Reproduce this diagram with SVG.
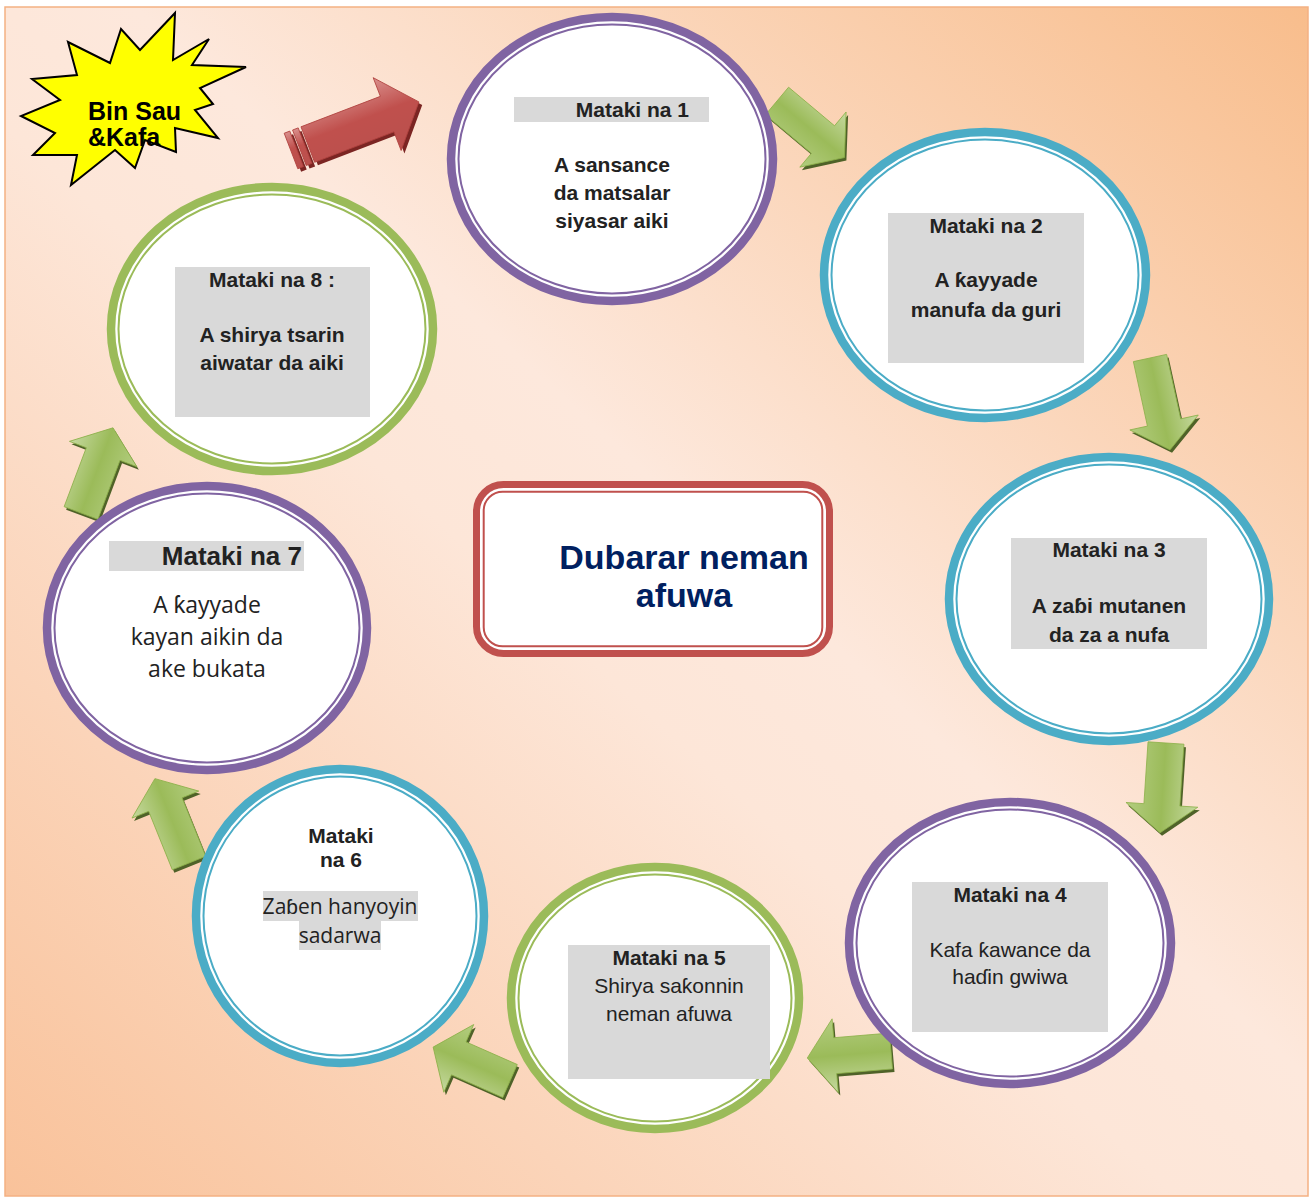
<svg xmlns="http://www.w3.org/2000/svg" width="1311" height="1198" viewBox="0 0 1311 1198">
<defs>
<linearGradient id="bg" x1="1" y1="0" x2="0" y2="1">
<stop offset="0" stop-color="#f8bd8c"/>
<stop offset="0.45" stop-color="#fde8dc"/>
<stop offset="0.55" stop-color="#fde6d8"/>
<stop offset="1" stop-color="#f9c29a"/>
</linearGradient>
<linearGradient id="gg" x1="0" y1="0" x2="0" y2="1">
<stop offset="0" stop-color="#c6d9a0"/>
<stop offset="0.5" stop-color="#9bbb59"/>
<stop offset="1" stop-color="#b3cd80"/>
</linearGradient>
<linearGradient id="rg" x1="0" y1="0" x2="0" y2="1">
<stop offset="0" stop-color="#d98f8c"/>
<stop offset="0.45" stop-color="#c0504d"/>
<stop offset="1" stop-color="#b9504d"/>
</linearGradient>
<path id="g84" d="M0,-18 H56 V-37 L84,0 L56,37 V18 H0 Z"/>
<path id="g88" d="M0,-18 H60 V-36 L88,0 L60,36 V18 H0 Z"/>
<path id="g90" d="M0,-18 H62 V-36 L90,0 L62,36 V18 H0 Z"/>
<path id="g91" d="M0,-18 H63 V-36 L91,0 L63,36 V18 H0 Z"/>
<path id="g94" d="M0,-17 H66 V-35 L94,0 L66,35 V17 H0 Z"/>
<style>
.t{font-family:"Liberation Sans",Arial,sans-serif;fill:#222;text-anchor:middle;font-size:21px}
.b{font-weight:bold}
.o{font-family:"Open Sans","Liberation Sans",sans-serif}
.hl{fill:#d9d9d9}
.ring{fill:#fff;stroke-width:8.5}
.thin{fill:none;stroke-width:2}
.gs{fill:#4f6228}
.gf{fill:url(#gg);stroke:#8db04a;stroke-width:0.8}
</style>
</defs>

<rect x="5" y="7" width="1303" height="1189" fill="url(#bg)" stroke="#f4b183" stroke-width="1.5"/>

<g id="badge">
<polygon points="175,13 173,60 209,39 192,65 246,67 200,88 213,104 195,110 218,138 175,128 176,152 145,140 135,168 115,150 71,185 77,155 33,155 55,133 21,116 60,100 32,79 77,75 68,42 110,63 121,29 140,50" fill="#ffff00" stroke="#000" stroke-width="2" stroke-linejoin="miter"/>
<text class="t b" x="88" y="120" style="text-anchor:start;fill:#000;font-size:25px">Bin Sau</text>
<text class="t b" x="88" y="146" style="text-anchor:start;fill:#000;font-size:25px">&amp;Kafa</text>
</g>

<g id="connectors">
<g id="arrow-8-1" transform="translate(291,151) rotate(-21)">
<g fill="#7b2523" transform="translate(2,4)">
<rect x="0" y="-19" width="6" height="38"/>
<rect x="9" y="-19" width="6" height="38"/>
<path d="M18,-19 H103 V-39 L137,0 L103,39 V19 H18 Z"/>
</g>
<g fill="url(#rg)" stroke="#b0413e" stroke-width="0.8">
<rect x="0" y="-19" width="6" height="38"/>
<rect x="9" y="-19" width="6" height="38"/>
<path d="M18,-19 H103 V-39 L137,0 L103,39 V19 H18 Z"/>
</g>
</g>
<g id="arrow-1-2"><use href="#g88" class="gs" transform="translate(779,104) rotate(40)"/><use href="#g88" class="gf" transform="translate(777,101) rotate(40)"/></g>
<g id="arrow-2-3"><use href="#g94" class="gs" transform="translate(1152,361) rotate(77.7)"/><use href="#g94" class="gf" transform="translate(1150,358) rotate(77.7)"/></g>
<g id="arrow-3-4"><use href="#g90" class="gs" transform="translate(1168,746) rotate(93.8)"/><use href="#g90" class="gf" transform="translate(1166,743) rotate(93.8)"/></g>
<g id="arrow-4-5"><use href="#g84" class="gs" transform="translate(893,1054) rotate(175.2)"/><use href="#g84" class="gf" transform="translate(891,1051) rotate(175.2)"/></g>
<g id="arrow-5-6"><use href="#g84" class="gs" transform="translate(512,1084) rotate(203.8)"/><use href="#g84" class="gf" transform="translate(510,1081) rotate(203.8)"/></g>
<g id="arrow-6-7"><use href="#g91" class="gs" transform="translate(191,866) rotate(248)"/><use href="#g91" class="gf" transform="translate(189,863) rotate(248)"/></g>
<g id="arrow-7-8"><use href="#g91" class="gs" transform="translate(83,516) rotate(-69.4)"/><use href="#g91" class="gf" transform="translate(81,513) rotate(-69.4)"/></g>
</g>

<g id="step1">
<ellipse class="ring" cx="612" cy="159" rx="161" ry="142" stroke="#8064a2"/>
<ellipse class="thin" cx="612" cy="159" rx="153.5" ry="134.5" stroke="#8064a2"/>
<rect class="hl" x="514" y="97" width="195" height="25"/>
<text class="t b" x="689" y="117" style="text-anchor:end">Mataki na 1</text>
<text class="t b" x="612" y="172">A sansance</text>
<text class="t b" x="612" y="200">da matsalar</text>
<text class="t b" x="612" y="228">siyasar aiki</text>
</g>

<g id="step2">
<ellipse class="ring" cx="985" cy="275" rx="161" ry="143" stroke="#4bacc6"/>
<ellipse class="thin" cx="985" cy="275" rx="153.5" ry="135.5" stroke="#4bacc6"/>
<rect class="hl" x="888" y="213" width="196" height="150"/>
<text class="t b" x="986" y="233">Mataki na 2</text>
<text class="t b" x="986" y="287">A ƙayyade</text>
<text class="t b" x="986" y="317">manufa da guri</text>
</g>

<g id="step3">
<ellipse class="ring" cx="1109" cy="599" rx="160" ry="142" stroke="#4bacc6"/>
<ellipse class="thin" cx="1109" cy="599" rx="152.5" ry="134.5" stroke="#4bacc6"/>
<rect class="hl" x="1011" y="538" width="196" height="111"/>
<text class="t b" x="1109" y="557">Mataki na 3</text>
<text class="t b" x="1109" y="613">A zaɓi mutanen</text>
<text class="t b" x="1109" y="642">da za a nufa</text>
</g>

<g id="step4">
<ellipse class="ring" cx="1010" cy="943" rx="161" ry="141" stroke="#8064a2"/>
<ellipse class="thin" cx="1010" cy="943" rx="153.5" ry="133.5" stroke="#8064a2"/>
<rect class="hl" x="912" y="882" width="196" height="150"/>
<text class="t b" x="1010" y="902">Mataki na 4</text>
<text class="t" x="1010" y="957">Kafa ƙawance da</text>
<text class="t" x="1010" y="984">haɗin gwiwa</text>
</g>

<g id="step5">
<ellipse class="ring" cx="655" cy="998" rx="144" ry="131" stroke="#9bbb59"/>
<ellipse class="thin" cx="655" cy="998" rx="136.5" ry="123.5" stroke="#9bbb59"/>
<rect class="hl" x="568" y="945" width="202" height="134"/>
<text class="t b" x="669" y="965">Mataki na 5</text>
<text class="t" x="669" y="993">Shirya saƙonnin</text>
<text class="t" x="669" y="1021">neman afuwa</text>
</g>

<g id="step6">
<ellipse class="ring" cx="340" cy="916" rx="144" ry="147" stroke="#4bacc6"/>
<ellipse class="thin" cx="340" cy="916" rx="136.5" ry="139.5" stroke="#4bacc6"/>
<text class="t b" x="341" y="843">Mataki</text>
<text class="t b" x="341" y="867">na 6</text>
<rect class="hl" x="263" y="891" width="155" height="30"/>
<rect class="hl" x="299" y="921" width="82" height="29"/>
<text class="t o" x="340" y="914">Zaɓen hanyoyin</text>
<text class="t o" x="340" y="943">sadarwa</text>
</g>

<g id="step7">
<ellipse class="ring" cx="207" cy="628" rx="160" ry="142" stroke="#8064a2"/>
<ellipse class="thin" cx="207" cy="628" rx="152.5" ry="134.5" stroke="#8064a2"/>
<rect class="hl" x="109" y="541" width="195" height="30"/>
<text class="t b" x="302" y="565" style="text-anchor:end;font-size:26px">Mataki na 7</text>
<text class="t o" x="207" y="613" style="font-size:23px">A ƙayyade</text>
<text class="t o" x="207" y="645" style="font-size:23px">kayan aikin da</text>
<text class="t o" x="207" y="677" style="font-size:23px">ake bukata</text>
</g>

<g id="step8">
<ellipse class="ring" cx="272" cy="329" rx="161" ry="142" stroke="#9bbb59"/>
<ellipse class="thin" cx="272" cy="329" rx="153.5" ry="134.5" stroke="#9bbb59"/>
<rect class="hl" x="175" y="267" width="195" height="150"/>
<text class="t b" x="272" y="287">Mataki na 8 :</text>
<text class="t b" x="272" y="342">A shirya tsarin</text>
<text class="t b" x="272" y="370">aiwatar da aiki</text>
</g>

<g id="center">
<rect x="476.5" y="484.5" width="353" height="169" rx="27" fill="#fff" stroke="#c0504d" stroke-width="7"/>
<rect x="483.7" y="491.7" width="338.6" height="154.6" rx="19" fill="none" stroke="#c0504d" stroke-width="2"/>
<text class="t b" x="684" y="569" style="fill:#002060;font-size:34px">Dubarar neman</text>
<text class="t b" x="684" y="607" style="fill:#002060;font-size:34px">afuwa</text>
</g>
</svg>
